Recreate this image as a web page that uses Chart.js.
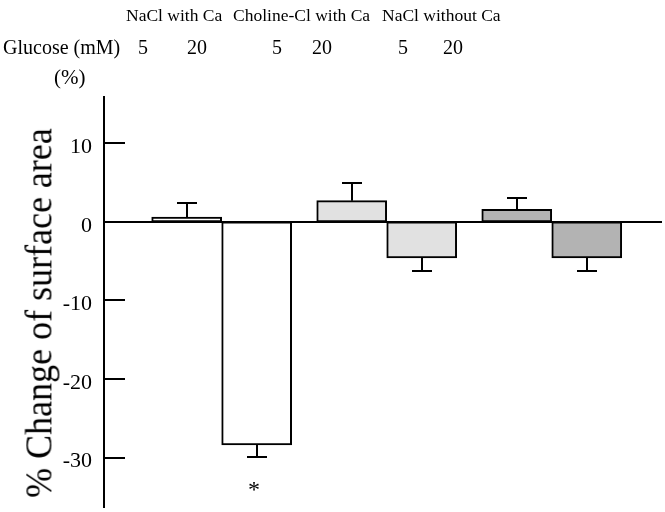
<!DOCTYPE html>
<html><head><meta charset="utf-8">
<script src="https://cdn.jsdelivr.net/npm/chart.js@4.4.1/dist/chart.umd.min.js"></script>
<style>
html,body{margin:0;padding:0;background:#fff;}
#wrap{position:relative;width:665px;height:512px;overflow:hidden;font-family:'Liberation Serif','Times New Roman',serif;color:#000;}
canvas{position:absolute;left:0;top:0;}
.t{position:absolute;white-space:nowrap;line-height:1;}
</style></head><body>
<div id="wrap">
<canvas id="c" width="665" height="512"></canvas>
</div>
<script>
// ---- data ----
const groups = ['NaCl with Ca', 'Choline-Cl with Ca', 'NaCl without Ca'];
const glucose = ['5', '20'];
const glucoseTitle = 'Glucose (mM)';
const unitLabel = '(%)';
const yTitle = '% Change of surface area';
const groupX = [0, 1, 2];
const mean5 = [0.6, 2.7, 1.6];
const mean20 = [-28.4, -4.6, -4.6];
const err5 = [1.8, 2.3, 1.5];
const err20 = [1.5, 1.6, 1.6];
const mark5 = ['', '', ''];
const mark20 = ['*', '', ''];
const yTicks = [10, 0, -10, -20, -30];

// ---- styles / layout ----
const fills = ['#ffffff', '#e1e1e1', '#b3b3b3'];
const groupLabelLeft = [126, 233, 382];
const glucoseLeft = [138, 187, 272, 312, 398, 443];

const wrap = document.getElementById('wrap');
function addText(txt, css) {
  const d = document.createElement('div');
  d.className = 't';
  d.textContent = txt;
  Object.assign(d.style, css);
  wrap.appendChild(d);
  return d;
}
groups.forEach((g, i) => addText(g, {left: groupLabelLeft[i] + 'px', top: '7.3px', fontSize: '17.5px'}));
addText(glucoseTitle, {left: '3px', top: '36.5px', fontSize: '20px'});
groups.forEach((g, i) => glucose.forEach((c, j) =>
  addText(c, {left: glucoseLeft[i * 2 + j] + 'px', top: '36.5px', fontSize: '20px'})));
addText(unitLabel, {left: '54px', top: '67px', fontSize: '21px'});
addText(yTitle, {left: '38px', top: '312.5px', fontSize: '36px',
  transform: 'translate(-50%,-50%) rotate(-90deg) scaleY(1.08)'});

Chart.defaults.font.family = "'Liberation Serif', 'Times New Roman', serif";
Chart.defaults.color = '#000';

const errorBars = {
  id: 'errorBars',
  afterDatasetsDraw(chart) {
    const ctx = chart.ctx, y = chart.scales.y;
    ctx.save();
    ctx.strokeStyle = '#000';
    ctx.lineWidth = 2;
    chart.data.datasets.forEach((ds, di) => {
      const meta = chart.getDatasetMeta(di);
      meta.data.forEach((bar, i) => {
        const v = ds.data[i].y, e = ds.errors[i];
        const end = Math.round(y.getPixelForValue(v + Math.sign(v) * e));
        const x = Math.round(bar.x);
        ctx.beginPath();
        ctx.moveTo(x, bar.y);
        ctx.lineTo(x, end);
        ctx.moveTo(x - 10, end);
        ctx.lineTo(x + 10, end);
        ctx.stroke();
        if (ds.marks[i]) {
          ctx.font = "24px 'Liberation Serif'";
          ctx.textAlign = 'center';
          ctx.textBaseline = 'alphabetic';
          ctx.fillStyle = '#000';
          ctx.fillText(ds.marks[i], x - 3, end + 40);
        }
      });
    });
    ctx.restore();
  }
};

const inwardTicks = {
  id: 'inwardTicks',
  afterDraw(chart) {
    const ctx = chart.ctx, y = chart.scales.y, left = chart.chartArea.left;
    ctx.save();
    ctx.strokeStyle = '#000';
    ctx.lineWidth = 2;
    y.ticks.forEach(t => {
      const py = Math.round(y.getPixelForValue(t.value));
      ctx.beginPath();
      ctx.moveTo(left, py);
      ctx.lineTo(left + 21, py);
      ctx.stroke();
    });
    ctx.restore();
  }
};

new Chart(document.getElementById('c'), {
  type: 'bar',
  data: {
    datasets: [
      {label: glucose[0], data: groupX.map((x, i) => ({x, y: mean5[i]})), errors: err5, marks: mark5,
       backgroundColor: fills, borderColor: '#000', borderWidth: 2, borderSkipped: false},
      {label: glucose[1], data: groupX.map((x, i) => ({x, y: mean20[i]})), errors: err20, marks: mark20,
       backgroundColor: fills, borderColor: '#000', borderWidth: 2, borderSkipped: false}
    ]
  },
  options: {
    responsive: false,
    animation: false,
    devicePixelRatio: 1,
    barThickness: 70,
    layout: {padding: {top: 97, right: 4, bottom: 5, left: 0}},
    plugins: {legend: {display: false}, tooltip: {enabled: false}},
    scales: {
      x: {
        type: 'linear', offset: false, min: -0.713, max: 2.662,
        position: {y: 0},
        ticks: {display: false},
        grid: {display: false, drawTicks: false},
        border: {display: true, color: '#000', width: 2}
      },
      y: {
        min: -36.3, max: 15.9,
        afterBuildTicks: s => { s.ticks = yTicks.map(v => ({value: v})); },
        afterFit: s => { s.width = 104; s.paddingTop = 0; s.paddingBottom = 0; },
        ticks: {padding: 12, labelOffset: 4, font: {size: 22}, color: '#000'},
        grid: {display: false, drawTicks: false},
        border: {display: true, color: '#000', width: 2}
      }
    }
  },
  plugins: [errorBars, inwardTicks]
});
</script>
</body></html>
